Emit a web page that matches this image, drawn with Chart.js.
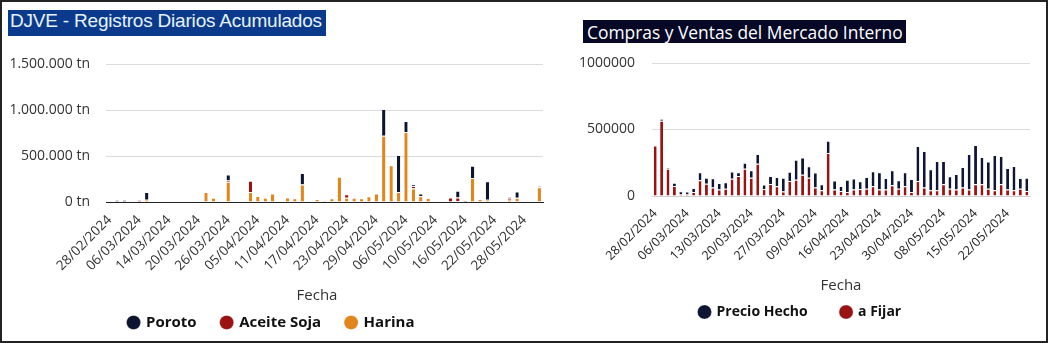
<!DOCTYPE html>
<html>
<head>
<meta charset="utf-8">
<script src="https://cdn.jsdelivr.net/npm/chart.js@4.4.1/dist/chart.umd.min.js"></script>
<style>
  html, body { margin: 0; padding: 0; background: #fff; }
  body { width: 1048px; height: 343px; position: relative; overflow: hidden; }
  .frame { position: absolute; left: 0; top: 0; width: 1044px; height: 339px; border: 2px solid #222; }
  .title1 { position: absolute; left: 8px; top: 10px; height: 26px; line-height: 26px; padding: 0 4px 0 2px;
            background: #0b3a8c; color: #e6f3ff; font: 19px "Liberation Sans", Arial, sans-serif;
            letter-spacing: -0.2px; white-space: nowrap; }
  .title2 { position: absolute; left: 583px; top: 20px; height: 23px; line-height: 23px; padding: 0 3px 0 4px;
            background: #060826; color: #fff; font: 17.4px "Open Sans", sans-serif; white-space: nowrap; }
  #c1 { position: absolute; left: 0; top: 45px; }
  #c2 { position: absolute; left: 560px; top: 45px; }
</style>
</head>
<body>
<div class="frame"></div>
<div class="title1">DJVE - Registros Diarios Acumulados</div>
<div class="title2">Compras y Ventas del Mercado Interno</div>
<canvas id="c1" width="560" height="295"></canvas>
<canvas id="c2" width="488" height="284"></canvas>
<script>
// DJVE - registros diarios (tn)
const djveFechas = ['28/02/2024','29/02/2024','01/03/2024','04/03/2024','06/03/2024','07/03/2024','08/03/2024','12/03/2024',
  '14/03/2024','15/03/2024','18/03/2024','19/03/2024','20/03/2024','21/03/2024','22/03/2024','25/03/2024',
  '26/03/2024','27/03/2024','28/03/2024','04/04/2024','05/04/2024','08/04/2024','09/04/2024','10/04/2024',
  '11/04/2024','12/04/2024','15/04/2024','16/04/2024','17/04/2024','18/04/2024','19/04/2024','22/04/2024',
  '23/04/2024','24/04/2024','25/04/2024','26/04/2024','29/04/2024','30/04/2024','02/05/2024','03/05/2024',
  '06/05/2024','07/05/2024','08/05/2024','09/05/2024','10/05/2024','13/05/2024','14/05/2024','15/05/2024',
  '16/05/2024','17/05/2024','20/05/2024','21/05/2024','22/05/2024','23/05/2024','24/05/2024','27/05/2024',
  '28/05/2024','29/05/2024','30/05/2024'];
const harina = [0,0,0,0,0,25000,0,0,0,0,
  0,0,0,110000,45000,0,220000,0,0,110000,
  65000,45000,92000,0,50000,40000,190000,0,33000,18000,
  40000,275000,45000,45000,40000,63000,92000,720000,400000,110000,
  760000,148000,62000,44000,0,0,0,8000,0,260000,
  33000,25000,0,8000,25000,45000,10000,5000,160000];
const aceiteSoja = [0,0,0,0,20000,0,0,0,0,0,
  0,0,0,0,0,0,15000,0,0,120000,
  0,0,0,0,0,0,0,0,0,0,
  0,0,40000,0,0,0,0,0,0,0,
  0,25000,0,0,0,0,50000,40000,0,0,
  0,0,0,0,20000,0,0,0,10000];
const poroto = [0,20000,20000,0,0,85000,0,0,0,0,
  0,0,0,0,0,0,65000,0,0,0,
  0,0,0,0,0,0,125000,5000,0,0,
  0,0,0,0,0,0,0,290000,0,400000,
  120000,20000,30000,0,0,0,0,75000,15000,135000,
  0,200000,0,0,10000,70000,0,0,10000];
const djveTicks = [0, 500000, 1000000, 1500000];

// mercado interno
const mercadoFechas = ['28/02/2024','29/02/2024','01/03/2024','04/03/2024','05/03/2024','06/03/2024','07/03/2024','08/03/2024',
  '11/03/2024','12/03/2024','13/03/2024','14/03/2024','15/03/2024','18/03/2024','19/03/2024','20/03/2024',
  '21/03/2024','22/03/2024','25/03/2024','26/03/2024','27/03/2024','28/03/2024','03/04/2024','04/04/2024',
  '05/04/2024','09/04/2024','10/04/2024','11/04/2024','12/04/2024','15/04/2024','16/04/2024','17/04/2024',
  '18/04/2024','19/04/2024','22/04/2024','23/04/2024','24/04/2024','25/04/2024','26/04/2024','29/04/2024',
  '30/04/2024','02/05/2024','03/05/2024','06/05/2024','07/05/2024','08/05/2024','09/05/2024','10/05/2024',
  '13/05/2024','14/05/2024','15/05/2024','16/05/2024','17/05/2024','20/05/2024','21/05/2024','22/05/2024',
  '23/05/2024','24/05/2024','27/05/2024'];
const aFijar = [380000,565000,205000,75000,15000,15000,30000,118000,93000,63000,
  48000,55000,130000,150000,205000,138000,243000,53000,90000,73000,
  33000,112000,123000,160000,138000,63000,43000,323000,48000,38000,
  30000,48000,53000,55000,73000,48000,48000,80000,55000,73000,
  30000,113000,63000,43000,43000,88000,55000,48000,63000,48000,
  88000,88000,55000,43000,88000,48000,43000,55000,38000];
const precioHecho = [0,15000,8000,25000,20000,18000,30000,60000,45000,70000,
  50000,48000,55000,28000,45000,55000,73000,33000,60000,70000,
  104000,70000,150000,130000,85000,113000,45000,93000,68000,38000,
  93000,83000,58000,88000,113000,130000,88000,113000,63000,105000,
  98000,263000,276000,158000,220000,175000,93000,118000,155000,268000,
  295000,205000,205000,265000,213000,163000,183000,80000,100000];
const mercadoTicks = [0, 500000, 1000000];

const textColor = '#333';
const gridColor = '#dcdcdc';

function puntos(v) {
  return String(v).replace(/\B(?=(\d{3})+(?!\d))/g, '.');
}

function segment(label, data, color) {
  return {
    label: label,
    data: data,
    backgroundColor: color,
    borderColor: '#fff',
    borderWidth: { top: 1, right: 0, bottom: 0, left: 0 },
    borderSkipped: false,
    categoryPercentage: 0.9,
    barPercentage: 0.5
  };
}

// legend spacing: small vertical padding, gap between items made with spaces
function legendOpts(size, gaps) {
  return {
    position: 'bottom',
    reverse: true,
    labels: {
      usePointStyle: true,
      pointStyle: 'circle',
      boxWidth: 10,
      boxHeight: 10,
      padding: 10,
      color: '#111',
      font: { family: 'Open Sans', size: size, weight: 'bold' },
      generateLabels: function(chart) {
        const items = Chart.defaults.plugins.legend.labels.generateLabels(chart);
        items.forEach(it => { it.text = it.text + gaps[it.datasetIndex]; });
        return items;
      }
    }
  };
}

// y labels pushed away from the plot with an invisible tick
function yGrid(len) {
  return { color: gridColor, drawTicks: true, tickLength: len, tickColor: 'rgba(0,0,0,0)' };
}

new Chart(document.getElementById('c1'), {
  type: 'bar',
  data: {
    labels: djveFechas,
    datasets: [
      segment('Harina', harina, '#e0861c'),
      segment('Aceite Soja', aceiteSoja, '#9c1212'),
      segment('Poroto', poroto, '#0d1430')
    ]
  },
  options: {
    responsive: false,
    animation: false,
    layout: { padding: { left: 0, right: 17, top: 19, bottom: 0 } },
    plugins: { legend: legendOpts(15, ['', '\u2003', '\u2003']), tooltip: { enabled: false } },
    scales: {
      x: {
        stacked: true,
        grid: { display: false },
        border: { display: true, color: '#222', width: 1 },
        ticks: {
          autoSkip: false, minRotation: 45, maxRotation: 45, padding: 2,
          color: textColor, font: { family: 'Open Sans', size: 13.5 },
          callback: function(v, i) { return i % 4 === 0 ? djveFechas[i] : null; }
        },
        title: { display: true, text: 'Fecha\u2003', color: textColor, font: { family: 'Open Sans', size: 15 }, padding: { top: 4, bottom: 0 } },
        afterFit: function(s) { s.height = 103; }
      },
      y: {
        stacked: true,
        min: 0, max: 1500000,
        afterBuildTicks: function(s) { s.ticks = djveTicks.map(v => ({ value: v })); },
        grid: yGrid(16),
        border: { display: false },
        ticks: { padding: 0, color: textColor, font: { family: 'Open Sans', size: 14 },
          callback: v => puntos(v) + ' tn' },
        afterFit: function(s) { s.width = 106; }
      }
    }
  }
});

new Chart(document.getElementById('c2'), {
  type: 'bar',
  data: {
    labels: mercadoFechas,
    datasets: [
      segment('a Fijar', aFijar, '#9a1313'),
      segment('Precio Hecho', precioHecho, '#0f1633')
    ]
  },
  options: {
    responsive: false,
    animation: false,
    layout: { padding: { left: 13, right: 18, top: 18, bottom: 0 } },
    plugins: { legend: legendOpts(14, ['\u2009', '\u2003\u2002\u2009']), tooltip: { enabled: false } },
    scales: {
      x: {
        stacked: true,
        grid: { display: false },
        border: { display: true, color: '#d0d0d0', width: 1 },
        ticks: {
          autoSkip: false, minRotation: 45, maxRotation: 45, padding: 2,
          color: '#222', font: { family: 'Open Sans', size: 12.5 },
          callback: function(v, i) { return i % 5 === 0 ? mercadoFechas[i] : null; }
        },
        title: { display: true, text: 'Fecha', color: textColor, font: { family: 'Open Sans', size: 15 }, padding: { top: 4, bottom: 0 } },
        afterFit: function(s) { s.height = 99; }
      },
      y: {
        stacked: true,
        min: 0, max: 1000000,
        afterBuildTicks: function(s) { s.ticks = mercadoTicks.map(v => ({ value: v })); },
        grid: yGrid(17),
        border: { display: false },
        ticks: { padding: 0, color: textColor, font: { family: 'Open Sans', size: 14 },
          callback: v => String(v) },
        afterFit: function(s) { s.width = 79; }
      }
    }
  }
});
</script>
</body>
</html>
